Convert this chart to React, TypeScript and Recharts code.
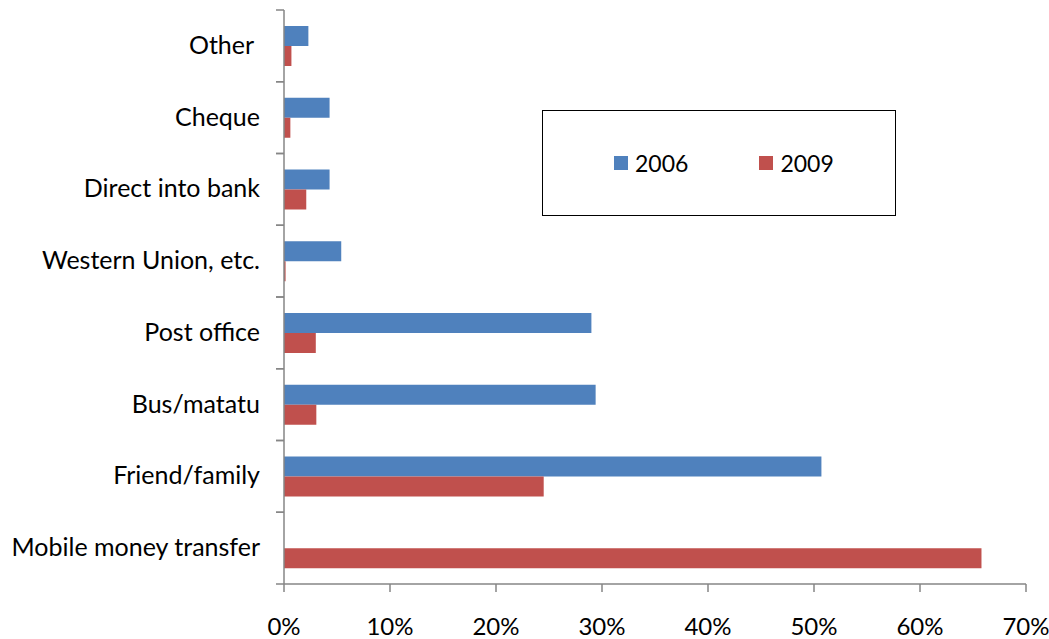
import { BarChart, Bar, XAxis, YAxis } from 'recharts';

const categories = [
  'Other\u00A0',
  'Cheque',
  'Direct into bank',
  'Western Union, etc.',
  'Post office',
  'Bus/matatu',
  'Friend/family',
  'Mobile money transfer',
];
const values2006 = [2.3, 4.3, 4.3, 5.4, 29.0, 29.4, 50.7, 0];
const values2009 = [0.7, 0.6, 2.1, 0.15, 3.0, 3.05, 24.5, 65.8];
const xTicks = [0, 10, 20, 30, 40, 50, 60, 70];

const data = categories.map((name, i) => ({
  name,
  y2006: values2006[i],
  y2009: values2009[i],
}));

const FONT = 'Lato, sans-serif';
const AXIS = '#868686';

// category label at band centre, tick marks at band edges (like Excel)
const CategoryTick = (props: any) => {
  const { x, y, payload } = props;
  const half = payload && payload.offset ? payload.offset : 35.9;
  return (
    <g>
      <line x1={x} x2={x + 8} y1={y - half} y2={y - half} stroke={AXIS} strokeWidth={1.5} />
      <line x1={x} x2={x + 8} y1={y + half} y2={y + half} stroke={AXIS} strokeWidth={1.5} />
      <text x={x - 16} y={y} dy={8} textAnchor="end" fontFamily={FONT} fontSize={25} fill="#000">
        {payload.value}
      </text>
    </g>
  );
};

const LegendBox = () => (
  <div
    style={{
      position: 'absolute',
      left: 542,
      top: 110,
      width: 352,
      height: 104,
      border: '1.5px solid #000',
      background: '#fff',
      fontFamily: FONT,
      fontSize: 23,
      display: 'flex',
      alignItems: 'center',
    }}
  >
    <span style={{ width: 14, height: 14, background: '#4F81BD', marginLeft: 71 }} />
    <span style={{ marginLeft: 7 }}>2006</span>
    <span style={{ width: 14, height: 14, background: '#C0504D', marginLeft: 71 }} />
    <span style={{ marginLeft: 7 }}>2009</span>
  </div>
);

const App = () => {
  return (
    <div style={{ position: 'absolute', left: 0, top: 0, width: 1049, height: 639, background: '#fff' }}>
      <BarChart
        width={1049}
        height={639}
        data={data}
        layout="vertical"
        margin={{ top: 10, right: 23, bottom: 0, left: 0 }}
        barGap={0}
        barSize={20}
      >
        <XAxis
          type="number"
          domain={[0, 70]}
          ticks={xTicks}
          interval={0}
          tickFormatter={(v) => `${v}%`}
          stroke={AXIS}
          strokeWidth={1.5}
          tickSize={8}
          height={55}
          tick={{ fill: '#000', fontFamily: FONT, fontSize: 24, dy: 24 }}
        />
        <YAxis
          type="category"
          dataKey="name"
          width={284}
          stroke={AXIS}
          strokeWidth={1.5}
          tickLine={false}
          tick={<CategoryTick />}
        />
        <Bar dataKey="y2006" fill="#4F81BD" isAnimationActive={false} />
        <Bar dataKey="y2009" fill="#C0504D" isAnimationActive={false} />
      </BarChart>
      <LegendBox />
    </div>
  );
};

export default App;
